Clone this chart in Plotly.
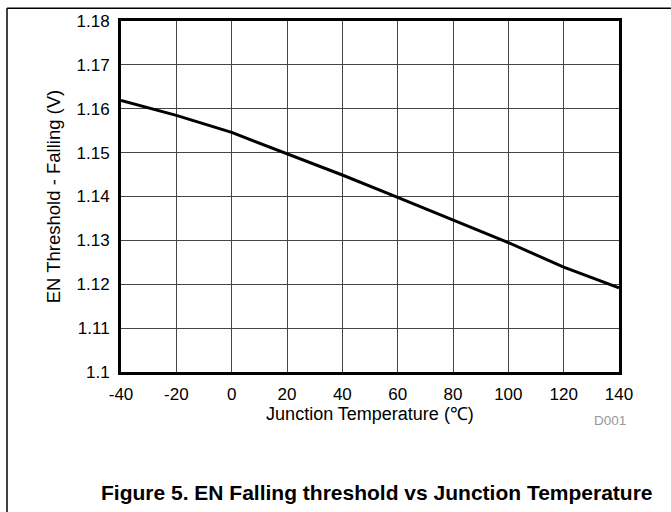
import plotly.graph_objects as go

temperature = [-40, -20, 0, 20, 40, 60, 80, 100, 120, 140]
en_falling = [1.1619, 1.1585, 1.1546, 1.1498, 1.1449, 1.1398, 1.1346, 1.1295, 1.1239, 1.1192]

x_ticks = [-40, -20, 0, 20, 40, 60, 80, 100, 120, 140]
x_tick_text = ["-40", "-20", "0", "20", "40", "60", "80", "100", "120", "140"]
y_ticks = [1.1, 1.11, 1.12, 1.13, 1.14, 1.15, 1.16, 1.17, 1.18]
y_tick_text = ["1.1", "1.11", "1.12", "1.13", "1.14", "1.15", "1.16", "1.17", "1.18"]

FONT = "Liberation Sans, Arial, sans-serif"

fig = go.Figure()
fig.add_trace(go.Scatter(x=temperature, y=en_falling, mode="lines",
                         line=dict(color="black", width=3), showlegend=False))

L, R, T, B = 121, 52, 17, 140
W, H = 671, 512
pw, ph = W - L - R, H - T - B

def px_x(p):
    return (p - L) / pw

def px_y(p):
    return (H - B - p) / ph

fig.update_layout(
    width=W, height=H,
    margin=dict(l=L, r=R, t=T, b=B, pad=0),
    paper_bgcolor="white", plot_bgcolor="white",
    font=dict(family=FONT, size=16, color="black"),
    xaxis=dict(range=[-40, 140], tickvals=x_ticks, ticktext=x_tick_text,
               showgrid=True, gridcolor="#444444", gridwidth=1, zeroline=False,
               showline=True, linecolor="black", linewidth=3, mirror=True,
               ticks="", ticklabelstandoff=5, tickfont=dict(size=17),
               title=dict(text="Junction Temperature (℃)", standoff=3,
                          font=dict(size=18))),
    yaxis=dict(range=[1.1, 1.18], tickvals=y_ticks, ticktext=y_tick_text,
               showgrid=True, gridcolor="#444444", gridwidth=1, zeroline=False,
               showline=True, linecolor="black", linewidth=3, mirror=True,
               ticks="", ticklabelstandoff=5, tickfont=dict(size=17),
               title=dict(text="EN Threshold - Falling (V)", standoff=12,
                          font=dict(size=18.5))),
    shapes=[
        dict(type="line", xref="paper", yref="paper",
             x0=px_x(7), x1=px_x(W + 2), y0=px_y(4), y1=px_y(4),
             line=dict(color="black", width=1.5)),
        dict(type="line", xref="paper", yref="paper",
             x0=px_x(7), x1=px_x(7), y0=px_y(4), y1=px_y(H + 2),
             line=dict(color="black", width=1.5)),
    ],
    annotations=[
        dict(text="D001", xref="paper", yref="paper", x=px_x(610), y=px_y(421),
             showarrow=False, font=dict(size=13.5, color="#999999"),
             xanchor="center", yanchor="middle"),
        dict(text="<b>Figure 5. EN Falling threshold vs Junction Temperature</b>",
             xref="paper", yref="paper", x=px_x(377), y=px_y(494),
             showarrow=False, font=dict(size=21, color="black"),
             xanchor="center", yanchor="middle"),
    ],
)

fig.write_html("out.html", config={"displayModeBar": False},
               post_script="document.body.style.margin='0';")
